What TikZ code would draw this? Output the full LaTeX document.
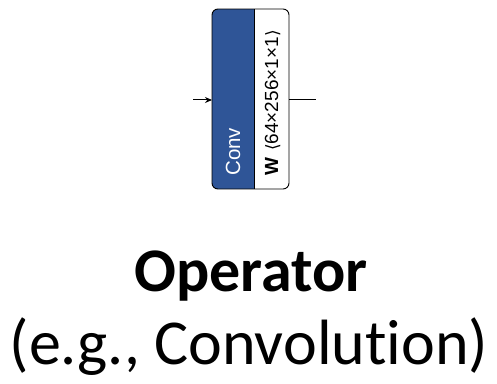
\documentclass[tikz,border=0pt]{standalone}
\usepackage{fontspec}
\setmainfont[Ligatures=CommonOff]{Carlito}
\newfontfamily\labelfont{Liberation Sans}
\newfontfamily\symfont{DejaVu Sans}
\usetikzlibrary{arrows.meta}
\definecolor{opblue}{HTML}{2F5597}
\tikzset{
  link/.style={line width=1pt, black},
  rot/.style={rotate=90, anchor=base west, inner sep=0pt, font=\labelfont\fontsize{19}{19}\selectfont},
}
\begin{document}
\begin{tikzpicture}[x=1pt,y=1pt]
\useasboundingbox (0,0) rectangle (497,383);
% operator block: filled name strip and white weight strip
\begin{scope}
  \clip[rounded corners=6pt] (212,194) rectangle (289,374);
  \fill[opblue] (212,194) rectangle (254,374);
  \fill[white] (254,194) rectangle (289,374);
\end{scope}
\draw[line width=0.9pt, rounded corners=6pt] (212,194) rectangle (289,374);
\draw[line width=0.6pt] (254,194) -- (254,374);
\coordinate (blockin) at (212,283);
\coordinate (blockout) at (289,283);
\coordinate (src) at (193,283);
\coordinate (dst) at (316,283);
\draw[link, -{Stealth[length=7pt,width=6pt]}] (src) -- (blockin);
\draw[link] (blockout) -- (dst);
\node[rot, text=white, font=\labelfont\fontsize{20.5}{20.5}\selectfont] (opname) at (240,207) {Conv};
\node[rot] (wlabel) at (278,207) {\textbf{W}\hspace{7pt}{\symfont\fontsize{17}{17}\selectfont ⟨}64×256×1×1{\symfont\fontsize{17}{17}\selectfont ⟩}};
% caption
\node[anchor=base, inner sep=0pt, font=\bfseries\fontsize{62}{62}\selectfont] (title) at (251,92) {Operator};
\node[anchor=base, inner sep=0pt, font=\fontsize{64}{64}\selectfont] (sub) at (249,19) {(e.g., Convolution)};
\end{tikzpicture}
\end{document}
